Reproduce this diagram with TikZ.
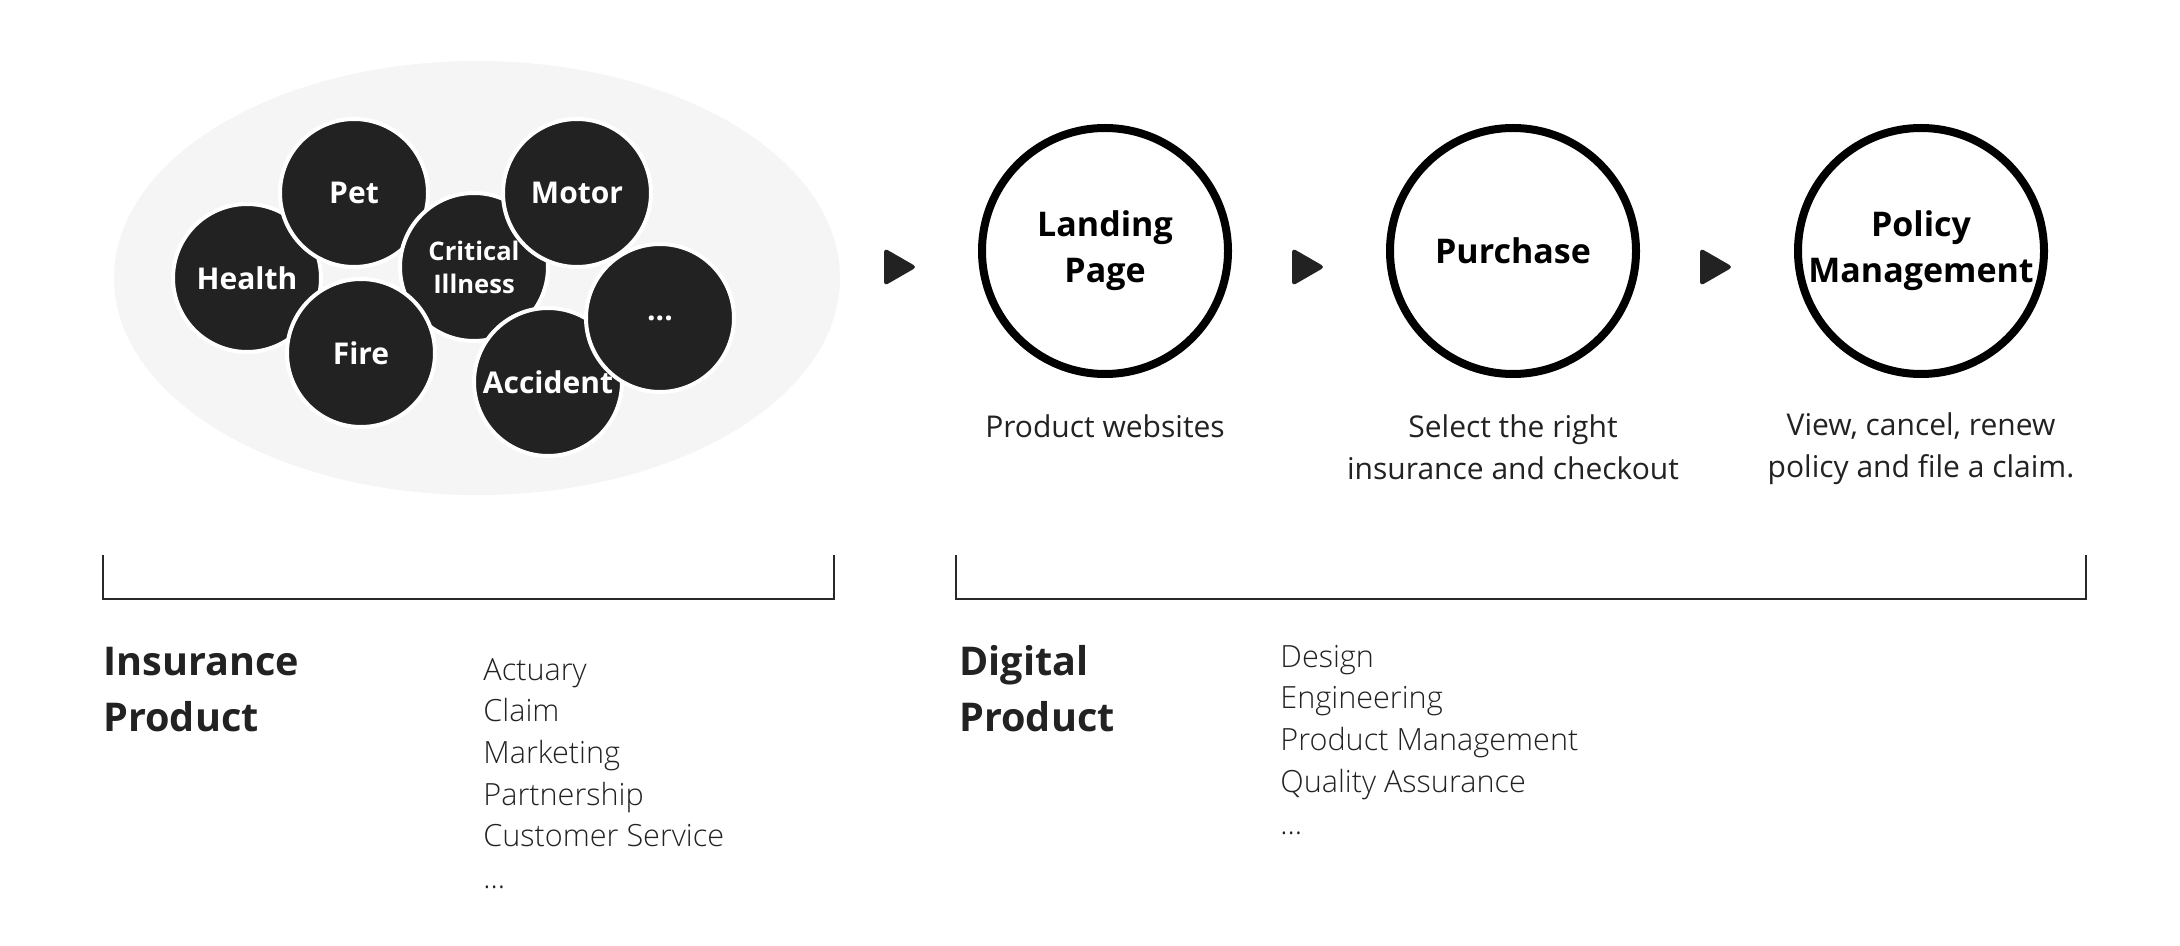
\documentclass[tikz,border=0pt]{standalone}
\usepackage{fontspec}
\setmainfont{Open Sans}
\newfontfamily\lightfont{Open Sans Light}
\usetikzlibrary{positioning,calc,shapes.geometric}
\definecolor{ink_color}{RGB}{34,34,34}
\definecolor{pool_color}{RGB}{245,245,245}
\definecolor{bracket_color}{RGB}{40,40,40}
\tikzset{
  pool/.style={
    ellipse, fill=pool_color, inner sep=0pt,
    minimum width=363pt, minimum height=217pt
  },
  product/.style={
    circle, fill=ink_color, draw=white, line width=2pt,
    minimum size=74pt, inner sep=0pt, text=white, align=center,
    font=\bfseries\fontsize{15}{16.5}\selectfont
  },
  stage/.style={
    circle, draw=black, line width=4pt, minimum size=123pt,
    inner sep=0pt, align=center, text=black,
    font=\bfseries\fontsize{17}{23}\selectfont
  },
  caption/.style={
    anchor=base, align=center, text=ink_color, inner sep=0pt,
    font=\fontsize{15}{21}\selectfont
  },
  heading/.style={
    anchor=base west, align=left, text=ink_color, inner sep=0pt,
    font=\bfseries\fontsize{19.8}{28}\selectfont
  },
  roles/.style={
    anchor=base west, align=left, text=ink_color, inner sep=0pt,
    font=\lightfont\fontsize{15.3}{20.85}\selectfont
  },
  bracket/.style={draw=bracket_color, line width=1.4pt},
  playtip/.style={fill=ink_color, rounded corners=2pt}
}

\begin{document}
\begin{tikzpicture}[x=0.5pt, y=-0.5pt]
\useasboundingbox (0,0) rectangle (2180,946);

% insurance products
\node[pool] (pool) at (477,278) {};
\node[product] (health) at (247,278) {Health};
\node[product] (pet) at (354,193) {Pet};
\node[product, font=\bfseries\fontsize{12.8}{16.5}\selectfont] (critical) at (474,267) {Critical\\Illness};
\node[product] (fire) at (361,353) {Fire};
\node[product] (motor) at (577,193) {Motor};
\node[product] (accident) at (548,382) {Accident};
\node[product] (more) at (660,318) {...};

% digital journey
\node[stage] (landing) at (1105,251) {Landing\\Page};
\node[stage, right=77pt of landing] (purchase) {Purchase};
\node[stage, right=77pt of purchase] (policy) {Policy\\Management};

% base anchor sits on the last line
\node[caption] (landing_text) at ($(landing.south)+(0,60)$) {Product websites};
\node[caption] (purchase_text) at ($(purchase.south)+(0,102)$) {Select the right\\insurance and checkout};
\node[caption] (policy_text) at ($(policy.south)+(0,100)$) {View, cancel, renew\\policy and file a claim.};

\coordinate (tip1) at ($(landing.west)+(-78,16)$);
\coordinate (tip2) at ($(purchase.west)+(-78,16)$);
\coordinate (tip3) at ($(policy.west)+(-78,16)$);
\fill[playtip] ($(tip1)+(-16,-19)$) -- ($(tip1)+(17,0)$) -- ($(tip1)+(-16,19)$) -- cycle;
\fill[playtip] ($(tip2)+(-16,-19)$) -- ($(tip2)+(17,0)$) -- ($(tip2)+(-16,19)$) -- cycle;
\fill[playtip] ($(tip3)+(-16,-19)$) -- ($(tip3)+(17,0)$) -- ($(tip3)+(-16,19)$) -- cycle;

% brackets
\coordinate (pool_bracket_left) at (103,555);
\coordinate (pool_bracket_right) at (834,555);
\coordinate (digital_bracket_left) at (956,555);
\coordinate (digital_bracket_right) at (2086,555);
\draw[bracket] (pool_bracket_left) -- ++(0,44) -| (pool_bracket_right);
\draw[bracket] (digital_bracket_left) -- ++(0,44) -| (digital_bracket_right);

% teams
\node[heading] (insurance) at (103,731) {Insurance\\Product};
\node[roles] (insurance_roles) at (483,888.5) {Actuary\\Claim\\Marketing\\Partnership\\Customer Service\\...};
\node[heading] (digital) at (959,731) {Digital\\Product};
\node[roles] (digital_roles) at (1280,834) {Design\\Engineering\\Product Management\\Quality Assurance\\...};

\end{tikzpicture}
\end{document}
